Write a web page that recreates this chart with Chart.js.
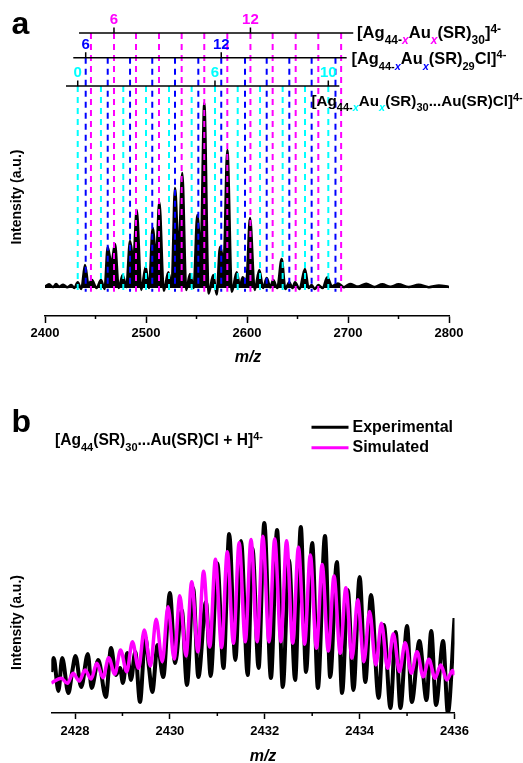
<!DOCTYPE html>
<html>
<head>
<meta charset="utf-8">
<script src="https://cdn.jsdelivr.net/npm/chart.js@4.4.1/dist/chart.umd.min.js"></script>
<style>
  body { margin: 0; background: #fff; }
  canvas { display: block; }
</style>
</head>
<body>
<canvas id="chartA" width="523" height="380"></canvas>
<canvas id="chartB" width="523" height="383"></canvas>
<script>
const FONT = 'Arial, "Liberation Sans", sans-serif';
const MAGENTA = '#ff00ff', BLUE = '#0000ff', CYAN = '#00ffff';

// ---- panel a: survey spectrum (m/z, intensity in % of the tallest peak)
const surveyMz = [2400, 2404, 2408, 2411, 2414, 2418, 2422, 2426, 2429, 2432.4,
  2436, 2439.6, 2443, 2446.5, 2451, 2455.4, 2459, 2462.1, 2465.7, 2469.3,
  2473, 2476.9, 2480.5, 2484.2, 2487.5, 2490.8, 2495.3, 2499.7, 2503, 2506.6,
  2510, 2513.2, 2517.6, 2522.1, 2525.4, 2528.7, 2532.3, 2535.9, 2539.8, 2543.6,
  2547.2, 2550.8, 2554.2, 2557.7, 2562, 2566.6, 2570, 2573.3, 2577, 2580.5,
  2585, 2589.8, 2593, 2595.7, 2599.3, 2603.0, 2607.6, 2612.2, 2616, 2619.5,
  2623, 2626.0, 2630, 2634.3, 2638, 2641.9, 2645, 2647.5, 2652, 2657.4,
  2661, 2664.0, 2667, 2670.6, 2675, 2679.5, 2684, 2690, 2696, 2702,
  2710, 2718, 2726, 2734, 2742, 2750, 2760, 2770, 2780, 2790,
  2800];
const surveyInt = [0.8, 2.0, 0.5, 2.2, 0.6, 1.8, 0.4, 1.6, 0.0, 3.2,
  -0.5, 12.4, 2, 4.3, 0.0, 4.3, -0.5, 22.2, 13, 23.8,
  0, 7.0, 0.5, 25.4, 15, 42.2, -1, 11.4, 0, 32.4,
  17, 46.5, -1.5, 8.6, 1, 54.1, 20, 62.2, -1, 7.6,
  0, 39.5, 20, 100, -3, 7.0, -3.5, 22.2, 15, 74.6,
  -2, 8.6, 1, 5.9, 3, 37.8, -1, 9.7, 0, 5.4,
  0.5, 4.3, 0, 15.7, -0.5, 3.2, 0, 3.2, -0.5, 10.3,
  0, 1.6, -0.5, 1.6, 0, 5.9, 1.0, 2.5, 0.5, 2.2,
  0.8, 2.3, 0.6, 2.0, 0.7, 2.0, 0.6, 1.8, 0.5, 1.4,
  0.6];

// guide lines for the three series (m/z of each x)
const au30Mz = [2445.5, 2468.3, 2490.1, 2512.9, 2535.3, 2557.7, 2580.5, 2603.4, 2625.4, 2648.2, 2670.6, 2693.2]; // x = 5..16
const au30Ticks = [2468.3, 2603.4];
const au30TickText = ['6', '12'];
const clMz = [2440.3, 2462.1, 2484.2, 2506.2, 2528.7, 2551.8, 2574.5, 2598.0, 2619.5, 2641.9, 2664.0, 2687.6]; // x = 6..17
const clTicks = [2440.3, 2574.5];
const clTickText = ['6', '12'];
const auClMz = [2432.4, 2455.4, 2477.5, 2500.0, 2522.8, 2545.2, 2568.3, 2590.8, 2612.9, 2635.3, 2657.4, 2680.5];
const auClTicks = [2432.4, 2568.3, 2680.5];
const auClTickText = ['0', '6', '10'];

// ---- panel b: isotope pattern
const expMz = [2427.50, 2427.55, 2427.65, 2427.73, 2427.86, 2427.94, 2428.01, 2428.13, 2428.27, 2428.35,
  2428.49, 2428.65, 2428.76, 2428.86, 2428.95, 2429.01, 2429.10, 2429.18, 2429.27, 2429.37,
  2429.48, 2429.56, 2429.63, 2429.74, 2429.86, 2430.00, 2430.11, 2430.25, 2430.36, 2430.49,
  2430.60, 2430.76, 2430.86, 2431.00, 2431.13, 2431.25, 2431.38, 2431.50, 2431.64, 2431.74,
  2431.87, 2431.99, 2432.13, 2432.26, 2432.38, 2432.51, 2432.64, 2432.76, 2432.87, 2433.00,
  2433.12, 2433.27, 2433.38, 2433.52, 2433.63, 2433.75, 2433.87, 2434.00, 2434.12, 2434.24,
  2434.40, 2434.51, 2434.65, 2434.76, 2434.86, 2435.00, 2435.10, 2435.26, 2435.41, 2435.51,
  2435.61, 2435.76, 2435.86, 2436.00];
const expInt = [21.6, 28.9, 11.6, 28.9, 10.5, 21.6, 30.0, 13.7, 31.1, 13.2,
  27.9, 8.4, 34.2, 20.0, 23.7, 15.8, 31.6, 17.4, 32.1, 5.8,
  40.0, 23.7, 11.1, 35.8, 18.9, 63.2, 26.3, 54.2, 14.7, 65.8,
  18.9, 58.4, 19.5, 78.9, 23.7, 94.2, 27.9, 90.5, 20.0, 86.8,
  23.7, 100, 18.4, 96.3, 13.7, 80.5, 17.4, 97.9, 21.6, 89.5,
  13.2, 93.2, 18.9, 79.5, 10.5, 64.7, 12.1, 71.6, 16.3, 62.1,
  7.9, 46.3, 2.6, 42.6, 2.6, 45.8, 5.8, 37.9, 6.8, 43.2,
  4.2, 37.9, 0, 50.0];

const simMz = [2427.50, 2427.71, 2427.84, 2427.96, 2428.09, 2428.21, 2428.34, 2428.46, 2428.59, 2428.71,
  2428.84, 2428.96, 2429.09, 2429.21, 2429.34, 2429.46, 2429.59, 2429.71, 2429.84, 2429.96,
  2430.09, 2430.21, 2430.34, 2430.46, 2430.59, 2430.71, 2430.84, 2430.96, 2431.09, 2431.21,
  2431.34, 2431.46, 2431.59, 2431.71, 2431.84, 2431.96, 2432.09, 2432.21, 2432.34, 2432.46,
  2432.59, 2432.71, 2432.84, 2432.96, 2433.09, 2433.21, 2433.34, 2433.46, 2433.59, 2433.71,
  2433.84, 2433.96, 2434.09, 2434.21, 2434.34, 2434.46, 2434.59, 2434.71, 2434.84, 2434.96,
  2435.09, 2435.21, 2435.34, 2435.46, 2435.59, 2435.71, 2435.84, 2435.96, 2436.00];
const simInt = [15.8, 18.3, 15.6, 20.9, 16.8, 22.6, 17.9, 26.2, 18.6, 29.1,
  20.4, 33.2, 21.7, 37.5, 23.5, 43.7, 24.7, 49.3, 27.0, 55.9,
  28.4, 61.7, 30.0, 69.1, 32.3, 74.6, 34.7, 80.9, 34.4, 84.9,
  36.7, 89.6, 37.5, 91.4, 37.5, 93.0, 37.5, 91.7, 37.5, 90.7,
  36.7, 87.2, 36.2, 83.2, 34.1, 78.2, 32.6, 72.1, 31.4, 65.9,
  28.8, 59.6, 27.0, 53.5, 25.3, 47.2, 23.5, 41.7, 21.7, 37.0,
  20.9, 32.3, 19.1, 28.3, 18.3, 25.3, 17.4, 22.4, 20.0];

const toPoints = (xs, ys) => xs.map((x, i) => ({ x: x, y: ys[i] }));

// where the three guide rows sit (in panel a y units)
const rows = [
  { mz: au30Mz, ticks: au30Ticks, text: au30TickText, color: MAGENTA, y: 137.8, from: 2433.7, to: 2705.2 },
  { mz: clMz, ticks: clTicks, text: clTickText, color: BLUE, y: 124.5, from: 2428.0, to: 2698.7 },
  { mz: auClMz, ticks: auClTicks, text: auClTickText, color: CYAN, y: 109.2, from: 2420.8, to: 2691.4 }
];

function drawRich(ctx, x, y, parts, size) {
  // parts: [text, kind, colour]; kind n = normal, s = subscript, i = italic subscript, p = superscript
  ctx.textBaseline = 'alphabetic';
  ctx.textAlign = 'left';
  parts.forEach(([t, kind, color]) => {
    const small = kind !== 'n';
    const fs = small ? Math.round(size * 0.7) : size;
    ctx.font = (kind === 'i' ? 'italic ' : '') + 'bold ' + fs + 'px ' + FONT;
    ctx.fillStyle = color || '#000';
    let dy = 0;
    if (kind === 's' || kind === 'i') dy = size * 0.38;
    if (kind === 'p') dy = -size * 0.32;
    ctx.fillText(t, x, y + dy);
    x += ctx.measureText(t).width;
  });
}

function yTitle(ctx, x, y) {
  ctx.save();
  ctx.translate(x, y);
  ctx.rotate(-Math.PI / 2);
  ctx.textAlign = 'center';
  ctx.textBaseline = 'middle';
  ctx.font = 'bold 14px ' + FONT;
  ctx.fillStyle = '#000';
  ctx.fillText('Intensity (a.u.)', 0, 0);
  ctx.restore();
}

function mzTitle(ctx, x, y) {
  ctx.textAlign = 'center';
  ctx.textBaseline = 'middle';
  ctx.font = 'italic bold 16px ' + FONT;
  ctx.fillStyle = '#000';
  ctx.fillText('m/z', x, y);
}

function minorTicks(ctx, chart, values, len) {
  const xs = chart.scales.x, y0 = chart.chartArea.bottom;
  ctx.strokeStyle = '#000';
  ctx.lineWidth = 1.5;
  values.forEach(v => {
    const px = xs.getPixelForValue(v);
    ctx.beginPath();
    ctx.moveTo(px, y0);
    ctx.lineTo(px, y0 + len);
    ctx.stroke();
  });
}

const annotA = {
  id: 'annotA',
  afterDraw(chart) {
    const ctx = chart.ctx, xs = chart.scales.x, ys = chart.scales.y;
    ctx.save();
    // series index labels above the guide rows
    ctx.textAlign = 'center';
    ctx.textBaseline = 'middle';
    ctx.font = 'bold 15px ' + FONT;
    rows.forEach(r => {
      ctx.fillStyle = r.color;
      r.ticks.forEach((m, i) => {
        ctx.fillText(r.text[i], xs.getPixelForValue(m), ys.getPixelForValue(r.y) - 13);
      });
    });
    const y1 = ys.getPixelForValue(rows[0].y), y2 = ys.getPixelForValue(rows[1].y);
    drawRich(ctx, 357, y1 + 5, [['[Ag', 'n'], ['44-', 's'], ['x', 'i', MAGENTA], ['Au', 'n'], ['x', 'i', MAGENTA],
      ['(SR)', 'n'], ['30', 's'], [']', 'n'], ['4-', 'p']], 16.6);
    drawRich(ctx, 351.5, y2 + 6, [['[Ag', 'n'], ['44-', 's'], ['x', 'i', BLUE], ['Au', 'n'], ['x', 'i', BLUE],
      ['(SR)', 'n'], ['29', 's'], ['Cl]', 'n'], ['4-', 'p']], 16.4);
    drawRich(ctx, 311.5, 105.5, [['[Ag', 'n'], ['44-', 's'], ['x', 'i', CYAN], ['Au', 'n'], ['x', 'i', CYAN],
      ['(SR)', 'n'], ['30', 's'], ['...Au(SR)Cl]', 'n'], ['4-', 'p']], 15.2);
    ctx.font = 'bold 32px ' + FONT;
    ctx.fillStyle = '#000';
    ctx.textAlign = 'left';
    ctx.textBaseline = 'alphabetic';
    ctx.fillText('a', 11.5, 33.5);
    yTitle(ctx, 17, 197);
    mzTitle(ctx, 248, 358);
    minorTicks(ctx, chart, [2450, 2550, 2650, 2750], 3);
    ctx.restore();
  }
};

const annotB = {
  id: 'annotB',
  afterDraw(chart) {
    const ctx = chart.ctx;
    ctx.save();
    ctx.font = 'bold 32px ' + FONT;
    ctx.fillStyle = '#000';
    ctx.textAlign = 'left';
    ctx.textBaseline = 'alphabetic';
    ctx.fillText('b', 11.5, 52);
    drawRich(ctx, 55, 65, [['[Ag', 'n'], ['44', 's'], ['(SR)', 'n'], ['30', 's'], ['...Au(SR)Cl + H]', 'n'], ['4-', 'p']], 15.6);
    // legend
    [['Experimental', '#000', 47.3], ['Simulated', MAGENTA, 67.7]].forEach(([label, color, y]) => {
      ctx.strokeStyle = color;
      ctx.lineWidth = 3;
      ctx.beginPath();
      ctx.moveTo(311.5, y);
      ctx.lineTo(348.5, y);
      ctx.stroke();
      ctx.fillStyle = '#000';
      ctx.font = 'bold 16px ' + FONT;
      ctx.textAlign = 'left';
      ctx.textBaseline = 'middle';
      ctx.fillText(label, 352.5, y);
    });
    yTitle(ctx, 17, 242.5);
    mzTitle(ctx, 263, 377);
    minorTicks(ctx, chart, [2429, 2431, 2433, 2435], 3);
    ctx.restore();
  }
};

// datasets for panel a
const datasetsA = [{
  data: toPoints(surveyMz, surveyInt),
  borderColor: '#000', backgroundColor: '#000', borderWidth: 2.5,
  fill: 'origin', pointRadius: 0, cubicInterpolationMode: 'monotone', order: 10
}];
rows.forEach(r => {
  r.mz.forEach(m => {
    datasetsA.push({
      data: [{ x: m, y: r.y }, { x: m, y: -2 }],
      borderColor: r.color, borderWidth: 2, borderDash: [6, 5],
      pointRadius: 0, fill: false, order: 5
    });
  });
  datasetsA.push({
    data: [{ x: r.from, y: r.y }, { x: r.to, y: r.y }],
    borderColor: '#000', borderWidth: 1.5, pointRadius: 0, fill: false, order: 1
  });
  r.ticks.forEach(m => {
    datasetsA.push({
      data: [{ x: m, y: r.y }, { x: m, y: r.y + 3 }],
      borderColor: '#000', borderWidth: 1.5, pointRadius: 0, fill: false, order: 1
    });
  });
});

const tickFont = { family: FONT, size: 13, weight: 'bold' };

new Chart(document.getElementById('chartA'), {
  type: 'line',
  data: { datasets: datasetsA },
  options: {
    responsive: false,
    animation: false,
    events: [],
    layout: { padding: { left: 45, right: 74, top: 10.5, bottom: 0 } },
    plugins: { legend: { display: false }, tooltip: { enabled: false } },
    scales: {
      x: {
        type: 'linear', min: 2400, max: 2800,
        ticks: {
          stepSize: 50, autoSkip: false, maxRotation: 0, padding: 3, color: '#000', font: tickFont,
          callback: v => (v % 100 === 0 ? v : '')
        },
        grid: {
          drawOnChartArea: false, tickLength: 7, tickWidth: 1.5,
          tickColor: c => (c.tick && c.tick.value % 100 === 0 ? '#000' : 'rgba(0,0,0,0)')
        },
        border: { color: '#000', width: 1.5 },
        afterFit: s => { s.height = 64; }
      },
      y: { display: false, min: -15.1, max: 150 }
    }
  },
  plugins: [annotA]
});

new Chart(document.getElementById('chartB'), {
  type: 'line',
  data: {
    datasets: [{
      label: 'Simulated',
      data: toPoints(simMz, simInt),
      borderColor: MAGENTA, borderWidth: 3.5, pointRadius: 0,
      cubicInterpolationMode: 'monotone', fill: false, order: 1
    }, {
      label: 'Experimental',
      data: toPoints(expMz, expInt),
      borderColor: '#000', borderWidth: 4, pointRadius: 0,
      cubicInterpolationMode: 'monotone', fill: false, order: 2
    }]
  },
  options: {
    responsive: false,
    animation: false,
    events: [],
    layout: { padding: { left: 51.3, right: 68.5, top: 80, bottom: 0 } },
    plugins: { legend: { display: false }, tooltip: { enabled: false } },
    scales: {
      x: {
        type: 'linear', min: 2427.5, max: 2436,
        ticks: {
          stepSize: 1, includeBounds: false, autoSkip: false, maxRotation: 0, padding: 5, color: '#000', font: tickFont,
          callback: v => (v % 2 === 0 ? v : '')
        },
        grid: {
          drawOnChartArea: false, tickLength: 6, tickWidth: 1.5,
          tickColor: c => (c.tick && c.tick.value % 2 === 0 ? '#000' : 'rgba(0,0,0,0)')
        },
        border: { color: '#000', width: 1.5 },
        afterFit: s => { s.height = 50; }
      },
      y: { display: false, min: 0, max: 133.2 }
    }
  },
  plugins: [annotB]
});
</script>
</body>
</html>
